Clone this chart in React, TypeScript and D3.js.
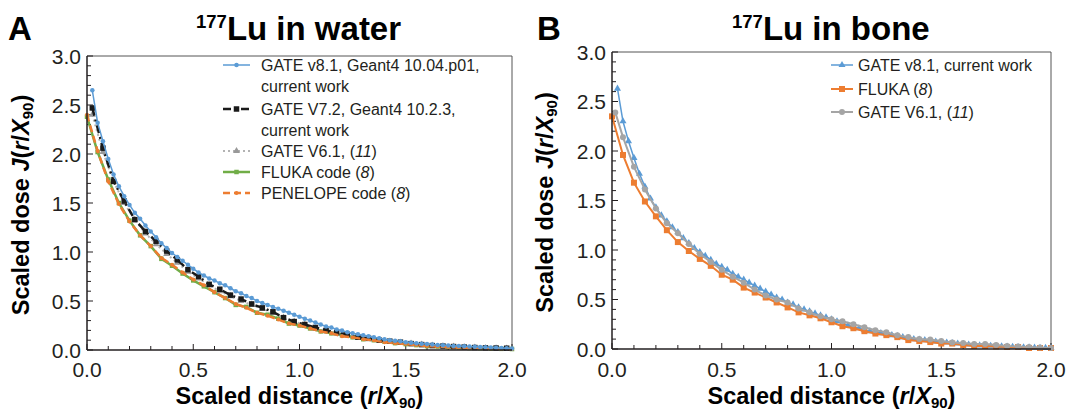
import React from 'react';
import * as d3 from 'd3';

// ---------- DATA ----------
// Panel A: 177Lu in water
const waterGate81X = d3.range(1, 81).map(i => i * 0.025);
const waterGate81Y = [2.65, 2.32, 2.13, 1.95, 1.79, 1.67, 1.57, 1.48, 1.40, 1.34, 1.27, 1.21, 1.15, 1.09, 1.04, 0.99, 0.95, 0.91, 0.87, 0.83,
  0.79, 0.76, 0.73, 0.71, 0.68, 0.66, 0.63, 0.60, 0.58, 0.55, 0.53, 0.50, 0.48, 0.46, 0.44, 0.42, 0.40, 0.38, 0.36, 0.34,
  0.32, 0.30, 0.28, 0.26, 0.24, 0.23, 0.21, 0.20, 0.18, 0.17, 0.16, 0.15, 0.14, 0.13, 0.12, 0.11, 0.10, 0.095, 0.09, 0.08,
  0.075, 0.07, 0.065, 0.06, 0.055, 0.05, 0.048, 0.045, 0.042, 0.04, 0.037, 0.035, 0.032, 0.03, 0.027, 0.025, 0.022, 0.02, 0.018, 0.015];

const waterGate72X = d3.range(0, 40).map(i => 0.025 + i * 0.05);
const waterGate72Y = [2.47, 2.06, 1.72, 1.52, 1.33, 1.21, 1.11, 1.01, 0.92, 0.82, 0.75, 0.67, 0.62, 0.56, 0.52, 0.47, 0.43, 0.39, 0.33, 0.29,
  0.26, 0.23, 0.20, 0.18, 0.16, 0.13, 0.12, 0.10, 0.09, 0.08, 0.065, 0.055, 0.045, 0.04, 0.035, 0.03, 0.025, 0.022, 0.02, 0.018];

const waterGate61X = d3.range(0, 40).map(i => 0.025 + i * 0.05);
const waterGate61Y = [2.40, 2.02, 1.72, 1.50, 1.33, 1.19, 1.08, 0.98, 0.89, 0.80, 0.73, 0.66, 0.60, 0.55, 0.50, 0.46, 0.42, 0.38, 0.33, 0.29,
  0.26, 0.22, 0.20, 0.17, 0.15, 0.13, 0.11, 0.10, 0.085, 0.075, 0.065, 0.055, 0.045, 0.04, 0.035, 0.03, 0.025, 0.02, 0.018, 0.015];

const waterFlukaX = d3.range(0, 41).map(i => i * 0.05);
const waterFlukaY = [2.38, 2.02, 1.74, 1.50, 1.32, 1.17, 1.06, 0.93, 0.86, 0.78, 0.71, 0.65, 0.59, 0.53, 0.46, 0.44, 0.38, 0.36, 0.32, 0.27,
  0.25, 0.22, 0.19, 0.17, 0.15, 0.13, 0.11, 0.10, 0.085, 0.07, 0.06, 0.05, 0.04, 0.035, 0.03, 0.025, 0.02, 0.018, 0.015, 0.012, 0.01];

const waterPenelopeX = d3.range(0, 41).map(i => i * 0.05);
const waterPenelopeY = [2.40, 2.03, 1.72, 1.49, 1.31, 1.17, 1.06, 0.94, 0.87, 0.79, 0.72, 0.66, 0.59, 0.53, 0.47, 0.43, 0.38, 0.35, 0.31, 0.27,
  0.25, 0.22, 0.19, 0.17, 0.14, 0.13, 0.11, 0.10, 0.08, 0.07, 0.06, 0.05, 0.04, 0.035, 0.03, 0.025, 0.02, 0.02, 0.015, 0.012, 0.01];

// Panel B: 177Lu in bone
const boneGate81X = d3.range(1, 81).map(i => i * 0.025);
const boneGate81Y = [2.63, 2.30, 2.10, 1.93, 1.77, 1.64, 1.52, 1.43, 1.35, 1.29, 1.23, 1.18, 1.12, 1.07, 1.02, 0.98, 0.94, 0.90, 0.86, 0.83,
  0.80, 0.76, 0.73, 0.70, 0.67, 0.64, 0.61, 0.58, 0.55, 0.52, 0.50, 0.47, 0.45, 0.42, 0.40, 0.38, 0.36, 0.34, 0.32, 0.30,
  0.28, 0.26, 0.24, 0.22, 0.21, 0.19, 0.18, 0.17, 0.16, 0.15, 0.14, 0.13, 0.12, 0.11, 0.10, 0.095, 0.09, 0.08, 0.075, 0.07,
  0.065, 0.06, 0.055, 0.05, 0.045, 0.04, 0.037, 0.035, 0.032, 0.03, 0.027, 0.025, 0.022, 0.02, 0.018, 0.016, 0.014, 0.012, 0.011, 0.01];

const boneFlukaX = d3.range(0, 41).map(i => i * 0.05);
const boneFlukaY = [2.35, 1.96, 1.68, 1.49, 1.34, 1.20, 1.08, 0.99, 0.91, 0.84, 0.75, 0.70, 0.62, 0.57, 0.52, 0.47, 0.42, 0.37, 0.34, 0.31,
  0.27, 0.23, 0.21, 0.18, 0.156, 0.14, 0.12, 0.09, 0.08, 0.07, 0.055, 0.055, 0.04, 0.03, 0.03, 0.025, 0.02, 0.02, 0.01, 0.01, 0.01];

const boneGate61X = [0.015, ...d3.range(1, 41).map(i => i * 0.05)];
const boneGate61Y = [2.39, 2.14, 1.84, 1.61, 1.42, 1.27, 1.17, 1.06, 0.96, 0.88, 0.80, 0.73, 0.67, 0.60, 0.54, 0.50, 0.47, 0.41, 0.37, 0.33,
  0.30, 0.28, 0.25, 0.22, 0.19, 0.17, 0.14, 0.12, 0.10, 0.095, 0.08, 0.065, 0.06, 0.05, 0.05, 0.04, 0.03, 0.025, 0.02, 0.015, 0.01];

const xTickLabels = ['0.0', '0.5', '1.0', '1.5', '2.0'];
const yTickLabels = ['0.0', '0.5', '1.0', '1.5', '2.0', '2.5', '3.0'];

// ---------- STYLE ----------
const BLUE = '#5b9bd5';
const ORANGE = '#ed7d31';
const GRAY = '#a5a5a5';
const GREEN = '#70ad47';
const BLACK = '#1a1a1a';
const TEXT = '#231f20';
const FONT = '"Liberation Sans", Arial, Helvetica, sans-serif';

type Marker = 'circle' | 'square' | 'triangle';
interface Series {
  x: number[]; y: number[]; color: string; width: number; dash?: string;
  marker: Marker; msize: number; mcolor?: string;
}

const symbolType = (m: Marker) => m === 'circle' ? d3.symbolCircle : m === 'square' ? d3.symbolSquare : d3.symbolTriangle;

function MarkerShape({ m, size, color, x, y }: { m: Marker; size: number; color: string; x: number; y: number }) {
  const area = m === 'circle' ? Math.PI * size * size / 4 : m === 'square' ? size * size : size * size * 0.6;
  const p = d3.symbol().type(symbolType(m)).size(area)() || '';
  return <path d={p} transform={`translate(${x},${y})`} fill={color} />;
}

interface LegendItem { s: Series; lines: React.ReactNode[]; y: number; }

function Panel(props: {
  left: number; right: number; top: number; bottom: number;
  series: Series[]; legend: LegendItem[]; legX1: number; legX2: number; legText: number;
  letter: string; letterX: number; titleX: number; titleRest: string; yTitleX: number;
}) {
  const { left, right, top, bottom, series, legend } = props;
  const x = d3.scaleLinear().domain([0, 2]).range([left, right]);
  const y = d3.scaleLinear().domain([0, 3]).range([bottom, top]);
  const line = d3.line<[number, number]>().x(d => x(d[0])).y(d => y(d[1]));
  const yMinor = d3.range(0, 31).map(i => i / 10);
  const xMinor = d3.range(0, 21).map(i => i / 10);
  const cy = (top + bottom) / 2 + 2;
  return (
    <g>
      <text x={props.letterX} y={39.5} fontFamily={FONT} fontWeight="bold" fontSize={33} fill="#000">{props.letter}</text>
      <text x={props.titleX} y={39.5} fontFamily={FONT} fontWeight="bold" fontSize={33} fill="#000">
        <tspan fontSize={18.5} dy={-12}>177</tspan><tspan dy={12}>{props.titleRest}</tspan>
      </text>
      {/* frame */}
      <line x1={left} x2={right} y1={top} y2={top} stroke="#555" strokeWidth={1} />
      <line x1={right} x2={right} y1={top} y2={bottom} stroke="#555" strokeWidth={1} />
      {/* ticks */}
      {yMinor.map((v, i) => (
        <line key={'yt' + i} x1={left} x2={left + (i % 5 === 0 ? 6 : 4)} y1={y(v)} y2={y(v)} stroke={TEXT} strokeWidth={1} />
      ))}
      {xMinor.map((v, i) => (
        <line key={'xt' + i} x1={x(v)} x2={x(v)} y1={bottom} y2={bottom - (i % 5 === 0 ? 6 : 4)} stroke={TEXT} strokeWidth={1} />
      ))}
      {/* series */}
      {series.map((s, i) => {
        const pts = s.x.map((xv, j) => [xv, s.y[j]] as [number, number]);
        return (
          <g key={'s' + i}>
            <path d={line(pts) || ''} fill="none" stroke={s.color} strokeWidth={s.width} strokeDasharray={s.dash} />
            {pts.map((p, j) => (
              <MarkerShape key={j} m={s.marker} size={s.msize} color={s.mcolor || s.color} x={x(p[0])} y={y(p[1])} />
            ))}
          </g>
        );
      })}
      {/* axes */}
      <line x1={left} x2={left} y1={top} y2={bottom} stroke={TEXT} strokeWidth={1.5} />
      <line x1={left} x2={right} y1={bottom} y2={bottom} stroke={TEXT} strokeWidth={1.5} />
      {yTickLabels.map((t, i) => (
        <text key={'yl' + i} x={left - 6} y={y(+t) + 7.5} textAnchor="end" fontFamily={FONT} fontSize={21} fill={TEXT}>{t}</text>
      ))}
      {xTickLabels.map((t, i) => (
        <text key={'xl' + i} x={x(+t)} y={377} textAnchor="middle" fontFamily={FONT} fontSize={21} fill={TEXT}>{t}</text>
      ))}
      {/* axis titles */}
      <text x={(left + right) / 2} y={404} textAnchor="middle" fontFamily={FONT} fontWeight="bold" fontSize={23.5} fill="#000">
        Scaled distance (<tspan fontStyle="italic">r</tspan>/<tspan fontStyle="italic">X</tspan><tspan fontSize={15} dy={4}>90</tspan><tspan dy={-4}>)</tspan>
      </text>
      <text transform={`translate(${props.yTitleX},${cy}) rotate(-90)`} textAnchor="middle" fontFamily={FONT} fontWeight="bold" fontSize={23.5} fill="#000">
        Scaled dose <tspan fontStyle="italic">J</tspan>(<tspan fontStyle="italic">r</tspan>/<tspan fontStyle="italic">X</tspan><tspan fontSize={15} dy={4}>90</tspan><tspan dy={-4}>)</tspan>
      </text>
      {/* legend */}
      {legend.map((it, i) => (
        <g key={'lg' + i}>
          <line x1={props.legX1} x2={props.legX2} y1={it.y} y2={it.y} stroke={it.s.color} strokeWidth={it.s.width} strokeDasharray={it.s.dash} />
          <MarkerShape m={it.s.marker} size={it.s.msize} color={it.s.mcolor || it.s.color} x={(props.legX1 + props.legX2) / 2} y={it.y} />
          {it.lines.map((ln, k) => (
            <text key={k} x={props.legText} y={it.y + 6 + k * 21} fontFamily={FONT} fontSize={16} fill={TEXT}>{ln}</text>
          ))}
        </g>
      ))}
    </g>
  );
}

export default function App() {
  const sWaterBlue: Series = { x: waterGate81X, y: waterGate81Y, color: BLUE, width: 1.5, marker: 'circle', msize: 4.5 };
  const sWaterBlack: Series = { x: waterGate72X, y: waterGate72Y, color: BLACK, width: 2.5, dash: '8 4 2 4', marker: 'square', msize: 5.5 };
  const sWaterGray: Series = { x: waterGate61X, y: waterGate61Y, color: '#b3b3b3', width: 2, dash: '2 3', marker: 'triangle', msize: 6, mcolor: '#999' };
  const sWaterGreen: Series = { x: waterFlukaX, y: waterFlukaY, color: GREEN, width: 2.5, marker: 'square', msize: 4.5 };
  const sWaterOrange: Series = { x: waterPenelopeX, y: waterPenelopeY, color: ORANGE, width: 2.5, dash: '7 4', marker: 'circle', msize: 4 };

  const sBoneBlue: Series = { x: boneGate81X, y: boneGate81Y, color: BLUE, width: 1.5, marker: 'triangle', msize: 6 };
  const sBoneOrange: Series = { x: boneFlukaX, y: boneFlukaY, color: ORANGE, width: 2, marker: 'square', msize: 6 };
  const sBoneGray: Series = { x: boneGate61X, y: boneGate61Y, color: GRAY, width: 2, marker: 'circle', msize: 6 };

  const legendA: LegendItem[] = [
    { s: sWaterBlue, lines: ['GATE v8.1, Geant4 10.04.p01,', 'current work'], y: 65 },
    { s: sWaterBlack, lines: ['GATE V7.2, Geant4 10.2.3,', 'current work'], y: 109 },
    { s: sWaterGray, lines: [<>GATE V6.1, (<tspan fontStyle="italic">11</tspan>)</>], y: 151 },
    { s: sWaterGreen, lines: [<>FLUKA code (<tspan fontStyle="italic">8</tspan>)</>], y: 172 },
    { s: sWaterOrange, lines: [<>PENELOPE code (<tspan fontStyle="italic">8</tspan>)</>], y: 193 },
  ];
  const legendB: LegendItem[] = [
    { s: sBoneBlue, lines: ['GATE v8.1, current work'], y: 65 },
    { s: sBoneOrange, lines: [<>FLUKA (<tspan fontStyle="italic">8</tspan>)</>], y: 89 },
    { s: sBoneGray, lines: [<>GATE V6.1, (<tspan fontStyle="italic">11</tspan>)</>], y: 112 },
  ];

  return (
    <svg width={1068} height={411} style={{ position: 'absolute', left: 0, top: 0, background: '#fff' }}>
      <rect width={1068} height={411} fill="#fff" />
      <Panel left={87} right={512} top={56} bottom={350}
        series={[sWaterGreen, sWaterGray, sWaterBlack, sWaterOrange, sWaterBlue]}
        legend={legendA} legX1={223} legX2={250} legText={261}
        letter="A" letterX={8} titleX={196} titleRest="Lu in water" yTitleX={29} />
      <Panel left={612} right={1051} top={52} bottom={349}
        series={[sBoneBlue, sBoneOrange, sBoneGray]}
        legend={legendB} legX1={831} legX2={853} legText={858}
        letter="B" letterX={537} titleX={732} titleRest="Lu in bone" yTitleX={553} />
    </svg>
  );
}
